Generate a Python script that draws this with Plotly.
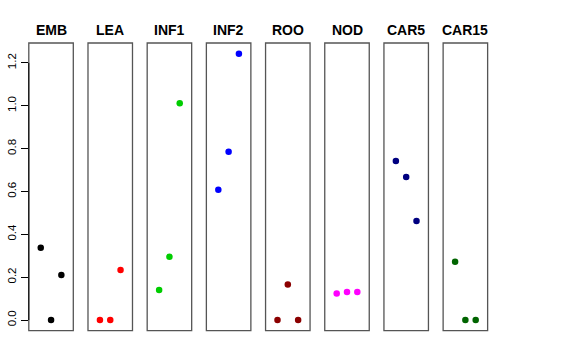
import plotly.graph_objects as go

tissues = ["EMB", "LEA", "INF1", "INF2", "ROO", "NOD", "CAR5", "CAR15"]
colors = ["#000000", "#FF0000", "#00CD00", "#0000FF", "#8B0000", "#FF00FF", "#000080", "#006400"]
positions = [1, 2, 3]
values = {
    "EMB":   [0.337, 0.000, 0.210],
    "LEA":   [0.000, 0.000, 0.234],
    "INF1":  [0.140, 0.295, 1.012],
    "INF2":  [0.608, 0.785, 1.243],
    "ROO":   [0.000, 0.166, 0.000],
    "NOD":   [0.124, 0.131, 0.131],
    "CAR5":  [0.742, 0.667, 0.462],
    "CAR15": [0.272, 0.000, 0.000],
}
yticks = [0.0, 0.2, 0.4, 0.6, 0.8, 1.0, 1.2]

W, H = 576, 360
x_left0 = 28.8
step = 59.19
pw = 44.5
top_px, bot_px = 43.0, 330.7
title_px = 30.0
ymax = max(max(v) for v in values.values())
ext = ymax * 0.04
yrange = [-ext, ymax + ext]

fig = go.Figure()
layout = dict(
    width=W, height=H,
    margin=dict(l=0, r=0, t=0, b=0, autoexpand=False),
    paper_bgcolor="white", plot_bgcolor="white",
    showlegend=False,
    font=dict(family="Liberation Sans, Arial, sans-serif", color="black"),
)
shapes = []
annotations = []
for i, t in enumerate(tissues):
    x0 = (x_left0 + i * step) / W
    x1 = (x_left0 + i * step + pw) / W
    xa = "xaxis" if i == 0 else f"xaxis{i+1}"
    ya = "yaxis" if i == 0 else f"yaxis{i+1}"
    xref = "x" if i == 0 else f"x{i+1}"
    yref = "y" if i == 0 else f"y{i+1}"
    layout[xa] = dict(domain=[x0, x1], range=[-0.16, 4.16], showticklabels=False,
                      showgrid=False, zeroline=False, ticks="", showline=False,
                      anchor=yref, automargin=False)
    ydict = dict(domain=[1 - bot_px / H, 1 - top_px / H], range=yrange,
                 showgrid=False, zeroline=False, anchor=xref, showline=False,
                 automargin=False)
    if i == 0:
        ydict.update(tickvals=yticks, ticktext=[f"{v:.1f}" for v in yticks],
                     ticks="outside", ticklen=7, tickcolor="black", tickwidth=1,
                     tickangle=-90, tickfont=dict(size=11.5, color="black"))
    else:
        ydict.update(showticklabels=False, ticks="")
    layout[ya] = ydict
    fig.add_trace(go.Scatter(x=positions, y=values[t], mode="markers",
                             marker=dict(color=colors[i], size=6.5, line=dict(width=0)),
                             xaxis=xref, yaxis=yref, hoverinfo="skip"))
    shapes.append(dict(type="rect", xref="paper", yref="paper", x0=x0, x1=x1,
                       y0=1 - bot_px / H, y1=1 - top_px / H,
                       line=dict(color="#555555", width=1.3), fillcolor="rgba(0,0,0,0)"))
    annotations.append(dict(text=f"<b>{t}</b>", xref="paper", yref="paper",
                            x=(x0 + x1) / 2, y=1 - title_px / H, showarrow=False,
                            xanchor="center", yanchor="middle",
                            font=dict(size=14, color="black")))

# y axis line from 0 to 1.2 on first panel
shapes.append(dict(type="line", xref="x domain", yref="y", x0=0, x1=0,
                   y0=yticks[0], y1=yticks[-1], line=dict(color="black", width=1)))
layout["shapes"] = shapes
layout["annotations"] = annotations
fig.update_layout(**layout)
fig.write_html("out.html", config={"displayModeBar": False, "staticPlot": True},
               post_script="document.body.style.margin='0px';document.body.style.overflow='hidden';")
